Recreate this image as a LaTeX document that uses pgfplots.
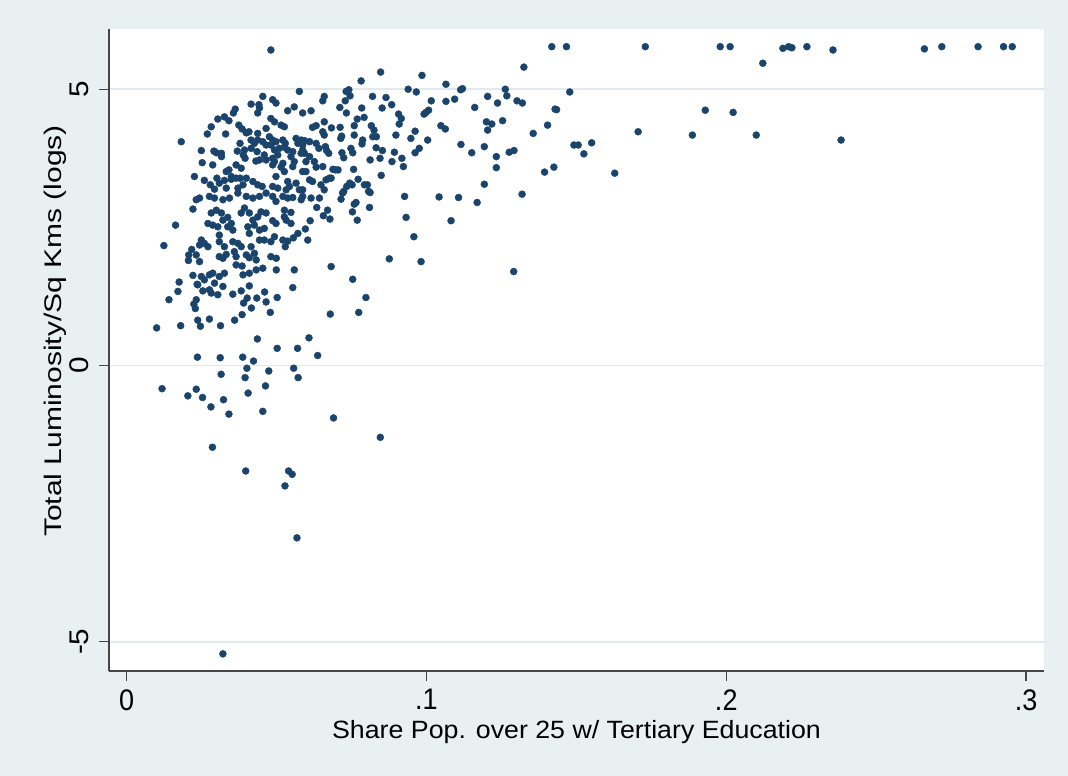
\documentclass[border=0pt]{standalone}
\usepackage{fontspec}
\setmainfont{Liberation Sans}
\usepackage{pgfplots}
\usepackage{pgfplotstable}
\pgfplotsset{compat=1.18}
\definecolor{bgc}{RGB}{232,240,242}
\definecolor{gridc}{RGB}{224,234,238}
\definecolor{dotc}{RGB}{26,68,108}
\definecolor{axc}{RGB}{70,70,70}
\pgfplotstableread{
x y
0.173 5.77
0.198 5.77
0.2013 5.77
0.2122 5.47
0.2189 5.74
0.2208 5.77
0.2219 5.75
0.2269 5.77
0.2356 5.71
0.2661 5.73
0.2719 5.77
0.284 5.77
0.2925 5.77
0.2954 5.77
0.193 4.62
0.2023 4.58
0.1706 4.23
0.1887 4.17
0.21 4.17
0.2383 4.08
0.1628 3.48
0.0481 5.71
0.1418 5.77
0.1467 5.77
0.1325 5.40
0.1478 4.95
0.0847 5.31
0.0782 5.15
0.0985 5.25
0.1065 5.09
0.0939 5.00
0.0966 4.95
0.1114 4.99
0.1120 5.01
0.1263 5.00
0.1268 4.88
0.1204 4.87
0.1302 4.79
0.1320 4.75
0.1237 4.75
0.1065 4.78
0.1094 4.82
0.1161 4.67
0.1016 4.79
0.1007 4.62
0.0998 4.58
0.0992 4.55
0.1429 4.64
0.1434 4.63
0.1404 4.35
0.1356 4.20
0.120 4.41
0.1218 4.37
0.1254 4.43
0.1204 4.26
0.1048 4.34
0.1063 4.28
0.1492 3.99
0.1506 3.99
0.1551 4.03
0.1525 3.83
0.1425 3.59
0.1394 3.50
0.1233 3.58
0.1233 3.78
0.1193 3.96
0.1276 3.86
0.1292 3.89
0.1115 4.00
0.1151 3.85
0.1319 3.10
0.1193 3.28
0.1169 2.95
0.1107 3.04
0.1042 3.05
0.1082 2.62
0.1291 1.70
0.0982 1.88
0.0958 2.33
0.0932 2.68
0.0927 3.06
0.0876 1.93
0.0923 3.60
0.0918 3.75
0.1004 4.08
0.0976 3.93
0.0962 3.85
0.0948 4.11
0.0962 4.24
0.0898 4.17
0.0909 4.37
0.0916 4.47
0.0907 4.55
0.0884 4.72
0.0865 4.85
0.0852 4.66
0.0820 4.87
0.0893 3.86
0.0885 3.69
0.0853 3.89
0.0845 3.75
0.0832 3.94
0.0812 3.72
0.0849 3.44
0.0821 4.14
0.0833 4.14
0.0816 4.34
0.0825 4.26
0.0784 4.66
0.0792 4.49
0.0769 4.46
0.0745 4.88
0.0741 4.99
0.0732 4.96
0.0729 4.79
0.0711 4.67
0.0733 4.57
0.0759 4.34
0.0759 4.17
0.0787 4.08
0.0785 4.01
0.0748 3.93
0.0754 3.85
0.0718 3.85
0.0724 3.76
0.0714 4.11
0.0717 4.15
0.0712 4.31
0.0683 4.30
0.0757 3.55
0.0744 3.30
0.0752 3.27
0.0734 3.24
0.0724 3.15
0.0720 3.12
0.0715 3.01
0.0759 2.92
0.0765 2.95
0.0753 2.78
0.0769 2.63
0.0793 3.27
0.0803 3.27
0.0807 3.15
0.0812 3.13
0.0810 2.86
0.0772 3.37
0.0688 3.55
0.0697 3.54
0.0705 3.54
0.0682 3.39
0.0682 1.79
0.0754 1.56
0.0798 1.23
0.0774 0.96
0.0679 0.93
0.0276 0.84
0.0313 0.72
0.036 0.82
0.0385 0.92
0.0416 1.04
0.039 1.13
0.0402 1.22
0.0434 1.22
0.046 1.33
0.0502 1.23
0.0554 1.41
0.0479 0.96
0.0436 0.48
0.0502 0.31
0.0570 0.31
0.0608 0.50
0.0637 0.18
0.0312 0.14
0.0387 0.15
0.0423 0.08
0.0401 -0.05
0.0474 -0.10
0.0557 -0.05
0.0572 -0.22
0.0315 -0.16
0.0395 -0.22
0.0463 -0.37
0.0405 -0.50
0.0323 -0.62
0.0281 -0.75
0.0341 -0.88
0.0454 -0.83
0.0690 -0.95
0.0286 -1.48
0.0397 -1.91
0.0540 -1.91
0.0552 -1.97
0.0528 -2.18
0.0568 -3.12
0.0321 -5.22
0.0846 -1.30
0.0221 2.83
0.0163 2.54
0.0124 2.17
0.0217 2.10
0.0207 2.00
0.0232 2.00
0.0206 1.90
0.0243 1.88
0.0221 1.63
0.0175 1.51
0.0171 1.34
0.0235 1.47
0.0141 1.19
0.0232 1.19
0.0224 1.11
0.0229 1.03
0.0237 0.82
0.0246 0.71
0.0100 0.68
0.0180 0.72
0.0236 0.15
0.0118 -0.42
0.0204 -0.55
0.0232 -0.43
0.0253 -0.58
0.0182 4.05
0.0454 4.87
0.0441 4.72
0.0443 4.66
0.0415 4.73
0.0437 4.57
0.0362 4.64
0.0356 4.57
0.0326 4.50
0.0341 4.43
0.0304 4.46
0.0282 4.32
0.0374 4.35
0.0385 4.28
0.0408 4.23
0.0399 4.21
0.0437 4.20
0.0465 4.29
0.0269 4.19
0.0330 4.19
0.0378 4.02
0.0415 4.08
0.0426 4.02
0.0437 4.08
0.0454 4.05
0.0465 3.99
0.0249 3.89
0.0291 3.88
0.0299 3.85
0.0316 3.84
0.0316 3.78
0.0369 3.88
0.0393 3.90
0.0389 3.81
0.0395 3.75
0.0415 3.93
0.0435 3.87
0.0443 3.72
0.0431 3.70
0.0459 3.81
0.0465 3.72
0.0252 3.67
0.0287 3.63
0.0341 3.54
0.0332 3.51
0.0365 3.63
0.0382 3.57
0.0349 3.42
0.0301 3.39
0.0226 3.42
0.0259 3.35
0.0279 3.27
0.0309 3.30
0.0326 3.35
0.0349 3.37
0.0365 3.39
0.0378 3.39
0.0399 3.39
0.0421 3.33
0.0437 3.27
0.0452 3.24
0.0388 3.27
0.0371 3.21
0.0332 3.21
0.0293 3.19
0.0243 3.03
0.0232 3.00
0.0276 3.06
0.0293 3.03
0.0321 3.00
0.0343 3.03
0.0399 3.06
0.0421 3.03
0.0443 3.06
0.0371 3.12
0.0465 3.12
0.0576 4.96
0.0659 4.87
0.0654 4.79
0.0487 4.81
0.0498 4.75
0.0559 4.68
0.0537 4.61
0.0587 4.57
0.0615 4.61
0.0481 4.47
0.0493 4.41
0.0515 4.35
0.0526 4.32
0.0620 4.31
0.0632 4.34
0.0659 4.41
0.0654 4.23
0.0659 4.17
0.0476 4.14
0.0487 4.08
0.0498 4.05
0.0481 3.99
0.0521 4.08
0.0529 4.02
0.0565 4.11
0.0582 4.08
0.0593 4.07
0.0610 4.05
0.0571 4.02
0.0587 3.99
0.0632 4.02
0.0641 3.93
0.0663 3.96
0.0667 3.89
0.0674 3.84
0.0493 3.90
0.0509 3.93
0.0526 3.95
0.0537 3.90
0.0504 3.81
0.0487 3.75
0.0554 3.87
0.0548 3.78
0.0582 3.84
0.0587 3.90
0.0593 3.84
0.0610 3.78
0.0598 3.69
0.0559 3.69
0.0554 3.60
0.0521 3.66
0.0515 3.59
0.0526 3.51
0.0493 3.69
0.0487 3.63
0.0626 3.69
0.0632 3.59
0.0654 3.60
0.0587 3.51
0.0598 3.51
0.0498 3.42
0.0610 3.36
0.0620 3.33
0.0665 3.36
0.0676 3.39
0.0648 3.27
0.0659 3.18
0.0565 3.30
0.0576 3.18
0.0587 3.18
0.0537 3.33
0.0543 3.24
0.0532 3.18
0.0487 3.24
0.0504 3.21
0.0521 3.06
0.0537 3.03
0.0554 3.04
0.0587 3.06
0.0582 3.00
0.0615 3.03
0.0643 3.03
0.0487 3.06
0.0498 2.97
0.0282 2.76
0.0299 2.81
0.0316 2.76
0.0321 2.63
0.0337 2.68
0.0349 2.57
0.0271 2.57
0.0287 2.54
0.0304 2.51
0.0337 2.51
0.0354 2.45
0.0382 2.76
0.0393 2.85
0.0409 2.76
0.0421 2.63
0.0437 2.69
0.0448 2.78
0.0465 2.76
0.0404 2.51
0.0426 2.54
0.0443 2.45
0.0459 2.48
0.0409 2.39
0.0309 2.36
0.0249 2.27
0.0259 2.21
0.0243 2.18
0.0271 2.15
0.0309 2.24
0.0326 2.15
0.0354 2.24
0.0371 2.21
0.0382 2.15
0.0443 2.27
0.0459 2.27
0.0415 2.15
0.0309 1.97
0.0321 1.94
0.0332 2.01
0.0359 2.06
0.0365 1.97
0.0365 1.82
0.0399 2.00
0.0409 1.95
0.0426 2.03
0.0432 1.91
0.0454 1.76
0.0385 1.80
0.0249 1.61
0.0259 1.55
0.0276 1.64
0.0287 1.67
0.0309 1.61
0.0326 1.67
0.0388 1.64
0.0409 1.67
0.0432 1.73
0.0237 1.46
0.0254 1.35
0.0276 1.37
0.0282 1.31
0.0293 1.49
0.0321 1.43
0.0304 1.28
0.0354 1.29
0.0382 1.35
0.0409 1.44
0.0465 1.15
0.0526 2.81
0.0548 2.77
0.0526 2.69
0.0532 2.63
0.0487 2.62
0.0498 2.57
0.0548 2.57
0.0634 2.86
0.0670 2.81
0.0656 2.71
0.0678 2.65
0.0612 2.62
0.0596 2.47
0.0571 2.39
0.0556 2.31
0.0493 2.33
0.0481 2.24
0.0521 2.27
0.0537 2.25
0.0529 2.15
0.0604 2.27
0.0481 1.97
0.0499 1.94
0.0499 1.73
0.0559 1.73
}\pts
\begin{document}
\fontsize{12bp}{14bp}\selectfont
\begin{tikzpicture}
\fill[bgc] (0,0) rectangle (534bp,388bp);
\begin{axis}[at={(54.5bp,52.5bp)}, anchor=south west,
  width=467.5bp, height=321bp, scale only axis,
  xmin=-0.0059, xmax=0.306, ymin=-5.53, ymax=6.09,
  axis x line*=bottom, axis y line*=left,
  axis line style={axc, line width=0.7bp},
  axis background/.style={fill=white},
  xtick={0,0.1,0.2,0.3}, xticklabels={0,.1,.2,.3},
  ytick={-5,0,5}, yticklabels={-5,0,5},
  tick align=outside, major tick length=5bp,
  tick style={axc, line width=0.7bp},
  ymajorgrids, grid style={gridc, line width=0.8bp},
  xticklabel style={font=\fontsize{13.5bp}{15bp}\selectfont, inner sep=0pt, anchor=north, yshift=-4bp, yscale=1.1},
  yticklabel style={font=\fontsize{13.5bp}{15bp}\selectfont, inner sep=0pt, xshift=-5bp, rotate=90, anchor=south, xscale=1.1},
  clip=false]
\addplot[only marks, mark=*, mark size=1.75bp, mark options={fill=dotc, draw=dotc, line width=0.2bp}] table[x=x, y=y] {\pts};
\end{axis}
\node[anchor=base, xscale=1.07, font=\fontsize{12.5bp}{15bp}\selectfont] at (288.25bp,19bp) {Share Pop. over 25 w/ Tertiary Education};
\node[rotate=90, xscale=1.25, anchor=base, font=\fontsize{12bp}{15bp}\selectfont] at (30.5bp,222.5bp) {Total Luminosity/Sq Kms (logs)};
\end{tikzpicture}
\end{document}
